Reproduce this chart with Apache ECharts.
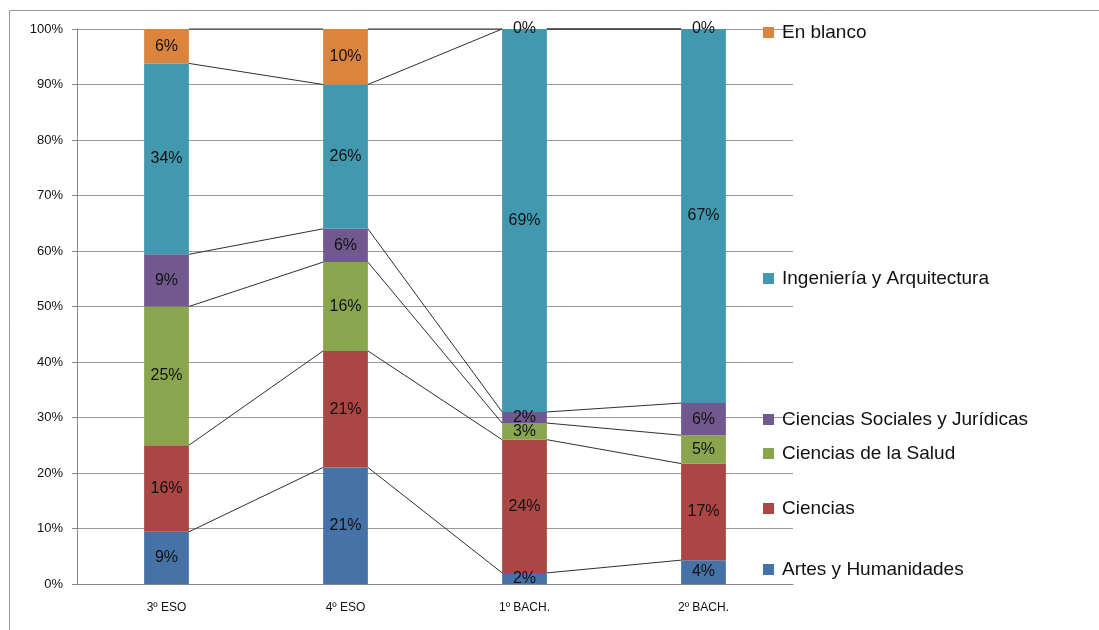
<!DOCTYPE html>
<html>
<head>
<meta charset="utf-8">
<script src="https://cdn.jsdelivr.net/npm/echarts@6/dist/echarts.min.js"></script>
<style>
  html, body { margin: 0; padding: 0; background: #fff; }
  #chart { width: 1099px; height: 630px; }
</style>
</head>
<body>
<div id="chart"></div>
<script>
// Courses on the horizontal axis
const categories = ['3º ESO', '4º ESO', '1º BACH.', '2º BACH.'];

// Share of students (%) choosing each branch, per course
const artes      = [9.4, 21, 2, 4.3];
const ciencias   = [15.6, 21, 24, 17.4];
const salud      = [25.0, 16, 3, 5.1];
const sociales   = [9.4, 6, 2, 5.8];
const ingenieria = [34.4, 26, 69, 67.4];
const enBlanco   = [6.2, 10, 0, 0];

const yTicks = [0, 10, 20, 30, 40, 50, 60, 70, 80, 90, 100];

const seriesDefs = [
  { name: 'Artes y Humanidades', data: artes, color: '#4572A7' },
  { name: 'Ciencias', data: ciencias, color: '#AA4643' },
  { name: 'Ciencias de la Salud', data: salud, color: '#89A54E' },
  { name: 'Ciencias Sociales y Jurídicas', data: sociales, color: '#71588F' },
  { name: 'Ingeniería y Arquitectura', data: ingenieria, color: '#4198AF' },
  { name: 'En blanco', data: enBlanco, color: '#DB843D' }
];

// Legend entry vertical centres (one legend per series, placed beside its band)
const legendTops = {
  'En blanco': 31,
  'Ingeniería y Arquitectura': 277,
  'Ciencias Sociales y Jurídicas': 418,
  'Ciencias de la Salud': 452,
  'Ciencias': 507,
  'Artes y Humanidades': 568
};

const FONT = '"Liberation Sans", Arial, sans-serif';
const BAR_RATIO = 0.25;

// Running totals: top edge of each band in each course
const cumulative = [];
seriesDefs.forEach((s, si) => {
  cumulative.push(s.data.map((v, ci) => v + (si > 0 ? cumulative[si - 1][ci] : 0)));
});

// Connector segments between neighbouring columns, one per band top
const connectorData = [];
cumulative.forEach(tops => {
  for (let ci = 0; ci < categories.length - 1; ci++) {
    connectorData.push([ci, tops[ci], tops[ci + 1]]);
  }
});

const barSeries = seriesDefs.map(s => ({
  name: s.name,
  type: 'bar',
  stack: 'total',
  barWidth: (BAR_RATIO * 100) + '%',
  data: s.data,
  itemStyle: { color: s.color },
  label: {
    show: true,
    position: 'inside',
    color: '#111',
    fontFamily: FONT,
    fontSize: 16,
    formatter: p => Math.round(p.value) + '%'
  },
  emphasis: { disabled: true },
  z: 3
}));

const connectorSeries = {
  type: 'custom',
  name: 'connectors',
  data: connectorData,
  encode: { x: 0, y: [1, 2] },
  silent: true,
  z: 4,
  renderItem: (params, api) => {
    const ci = api.value(0);
    const a = api.coord([ci, api.value(1)]);
    const b = api.coord([ci + 1, api.value(2)]);
    const half = api.size([1, 0])[0] * BAR_RATIO / 2;
    return {
      type: 'line',
      shape: { x1: a[0] + half, y1: a[1], x2: b[0] - half, y2: b[1] },
      style: { stroke: '#303030', lineWidth: 1 }
    };
  }
};

const legends = seriesDefs.map(s => ({
  data: [s.name],
  left: 763,
  top: legendTops[s.name] - 8,
  padding: 0,
  orient: 'vertical',
  icon: 'rect',
  itemWidth: 11,
  itemHeight: 11,
  itemGap: 0,
  selectedMode: false,
  textStyle: { fontFamily: FONT, fontSize: 19, color: '#111', padding: [0, 0, 0, 3] }
}));

const chart = echarts.init(document.getElementById('chart'));
chart.setOption({
  animation: false,
  backgroundColor: '#fff',
  grid: { left: 77, right: 306, top: 29, bottom: 46, containLabel: false },
  legend: legends,
  xAxis: {
    type: 'category',
    data: categories,
    axisLine: { lineStyle: { color: '#888', width: 1 } },
    axisTick: { show: false },
    axisLabel: { color: '#111', fontFamily: FONT, fontSize: 12, margin: 18 }
  },
  yAxis: {
    type: 'value',
    min: yTicks[0],
    max: yTicks[yTicks.length - 1],
    interval: yTicks[1] - yTicks[0],
    axisLine: { show: true, lineStyle: { color: '#888', width: 1 } },
    axisTick: { show: true, length: 5, lineStyle: { color: '#888' } },
    axisLabel: { color: '#111', fontFamily: FONT, fontSize: 13, margin: 14, formatter: '{value}%' },
    splitLine: { lineStyle: { color: '#999', width: 1 } }
  },
  graphic: [{
    type: 'rect',
    shape: { x: 9.5, y: 10.5, width: 1200, height: 700 },
    style: { fill: null, stroke: '#9a9a9a', lineWidth: 1 },
    silent: true,
    z: -1
  }],
  series: [...barSeries, connectorSeries]
});
</script>
</body>
</html>
